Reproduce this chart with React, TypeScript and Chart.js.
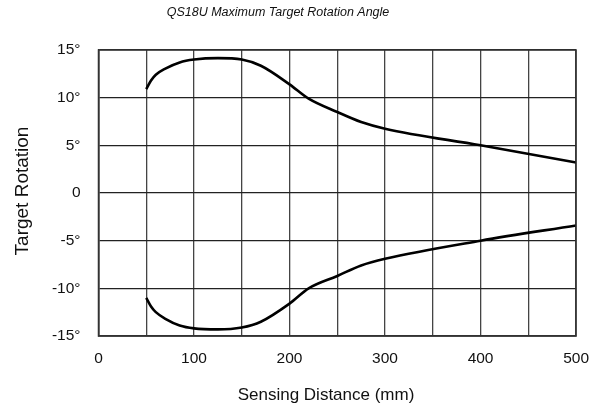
import React, { useEffect, useRef } from "react";
import { Chart, registerables } from "chart.js";

Chart.register(...registerables);

const chartTitle = "QS18U Maximum Target Rotation Angle";
const xAxisTitle = "Sensing Distance (mm)";
const yAxisTitle = "Target Rotation";

const distances = [50, 55, 60, 70, 85, 100, 125, 150, 170, 200, 220, 250, 275, 300, 400, 500];
const upperAngle = [10.9, 11.8, 12.4, 13.05, 13.7, 14.0, 14.15, 14.0, 13.35, 11.4, 9.9, 8.5, 7.45, 6.75, 5.0, 3.2];
const lowerAngle = [-11.0, -11.9, -12.5, -13.2, -13.9, -14.2, -14.3, -14.1, -13.5, -11.6, -10.0, -8.7, -7.6, -6.9, -5.0, -3.4];

const xMin = 0;
const xMax = 500;
const xGridStep = 50;
const xLabelStep = 100;
const yMin = -15;
const yMax = 15;
const yStep = 5;

const FONT = "'Liberation Sans', Arial, sans-serif";

const textPlugin = {
  id: "customTexts",
  afterDraw(chart: any) {
    const { ctx } = chart;
    ctx.save();
    ctx.fillStyle = "#111";
    ctx.textAlign = "center";
    ctx.textBaseline = "middle";
    ctx.font = `italic 12.5px ${FONT}`;
    ctx.fillText(chartTitle, 278, 13);
    ctx.font = `17px ${FONT}`;
    ctx.fillText(xAxisTitle, 326, 395);
    ctx.translate(23, 191);
    ctx.rotate(-Math.PI / 2);
    ctx.font = `19px ${FONT}`;
    ctx.fillText(yAxisTitle, 0, 0);
    ctx.restore();
  },
};

export default function App() {
  const canvasRef = useRef<HTMLCanvasElement | null>(null);

  useEffect(() => {
    document.body.style.margin = "0";
    const canvas = canvasRef.current;
    if (!canvas) return;
    const lineStyle = {
      borderColor: "#000",
      borderWidth: 2.6,
      pointRadius: 0,
      fill: false,
      cubicInterpolationMode: "monotone" as const,
    };
    const chart = new Chart(canvas, {
      type: "line",
      data: {
        datasets: [
          { label: "Upper", data: distances.map((d, i) => ({ x: d, y: upperAngle[i] })), ...lineStyle },
          { label: "Lower", data: distances.map((d, i) => ({ x: d, y: lowerAngle[i] })), ...lineStyle },
        ],
      },
      options: {
        animation: false,
        responsive: false,
        devicePixelRatio: 1,
        layout: { padding: { left: 0, right: 24, top: 50, bottom: 0 } },
        plugins: {
          legend: { display: false },
          title: { display: false },
          tooltip: { enabled: false },
        },
        scales: {
          x: {
            type: "linear",
            min: xMin,
            max: xMax,
            afterFit: (scale: any) => {
              scale.height = 78;
            },
            afterBuildTicks: (scale: any) => {
              const t = [];
              for (let v = xMin; v <= xMax; v += xGridStep) t.push({ value: v });
              scale.ticks = t;
            },
            ticks: {
              autoSkip: false,
              maxRotation: 0,
              padding: 13,
              color: "#111",
              font: { family: FONT, size: 15.5 },
              callback: (v: any) => (Number(v) % xLabelStep === 0 ? String(v) : ""),
            },
            grid: { color: "#444", lineWidth: 1.3, drawTicks: false },
            border: { color: "#333", width: 1.5 },
          },
          y: {
            type: "linear",
            min: yMin,
            max: yMax,
            afterFit: (scale: any) => {
              scale.width = 98.5;
            },
            ticks: {
              stepSize: yStep,
              padding: 18,
              color: "#111",
              font: { family: FONT, size: 15.5 },
              callback: (v: any) => (Number(v) === 0 ? "0" : `${v}°`),
            },
            grid: { color: "#222", lineWidth: 1.3, drawTicks: false },
            border: { color: "#333", width: 1.5 },
          },
        },
      },
      plugins: [
        textPlugin,
        {
          id: "frame",
          afterDatasetsDraw(c: any) {
            const { ctx, chartArea } = c;
            ctx.save();
            ctx.strokeStyle = "#333";
            ctx.lineWidth = 1.5;
            ctx.strokeRect(chartArea.left, chartArea.top, chartArea.right - chartArea.left, chartArea.bottom - chartArea.top);
            ctx.restore();
          },
        },
      ],
    } as any);
    return () => chart.destroy();
  }, []);

  return (
    <div style={{ width: 602, height: 414, background: "#fff" }}>
      <canvas ref={canvasRef} width={602} height={414} style={{ display: "block" }} />
    </div>
  );
}
